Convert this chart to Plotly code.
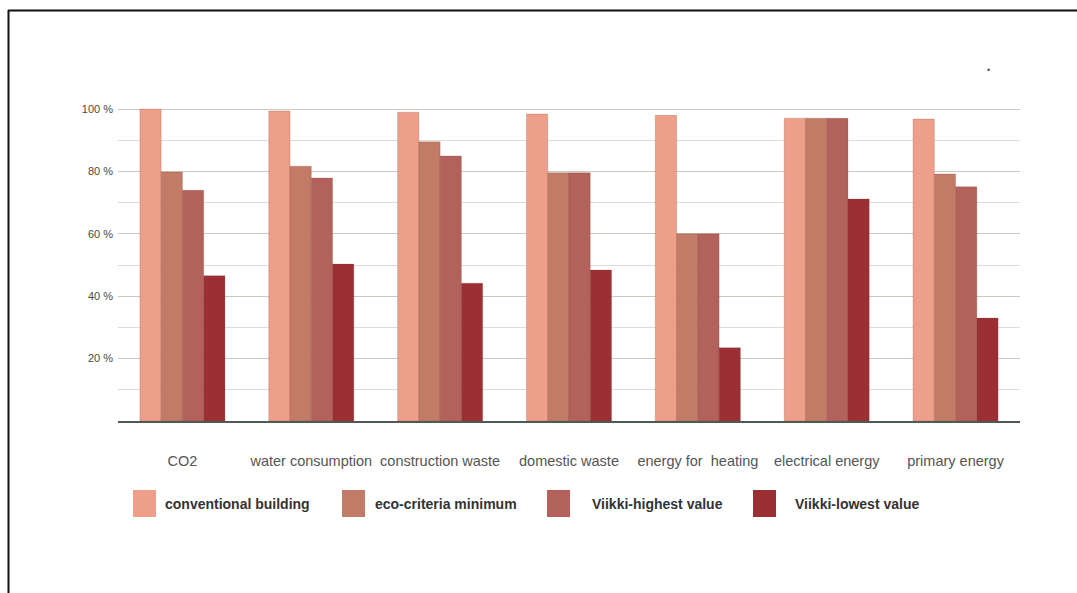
import plotly.graph_objects as go

# Indicator categories and the four building series (percent of conventional)
categories = ["CO2", "water consumption", "construction waste", "domestic waste",
              "energy for  heating", "electrical energy", "primary energy"]
series_names = ["conventional building", "eco-criteria minimum",
                "Viikki-highest value", "Viikki-lowest value"]
conventional = [100, 99.4, 99, 98.4, 98, 97.1, 96.8]
eco_minimum = [79.8, 81.7, 89.5, 79.6, 60, 97.1, 79.2]
viikki_high = [74, 77.9, 85, 79.6, 60, 97.1, 75.1]
viikki_low = [46.6, 50.3, 44.2, 48.4, 23.5, 71.2, 33]
series_values = [conventional, eco_minimum, viikki_high, viikki_low]
y_tickvals = [20, 40, 60, 80, 100]
y_ticktext = ["20 %", "40 %", "60 %", "80 %", "100 %"]

colors = ["#ED9F89", "#C27B66", "#B2625A", "#9B2F33"]

W, H = 1077, 593
L, R, T, B = 118, 57, 106, 172
PW, PH = W - L - R, H - T - B


def px_x(x):
    return (x - L) / PW


def px_y(y):
    return (H - B - y) / PH


fig = go.Figure()
for name, vals, col in zip(series_names, series_values, colors):
    fig.add_trace(go.Bar(
        x=categories, y=vals, name=name,
        marker=dict(color=col, line=dict(color="rgba(110,60,50,0.35)", width=0.6)),
        showlegend=False,
    ))

shapes = []
annotations = []

# Hand-placed legend row with large swatches
swatch_x = [133, 342, 547, 753]
text_x = [163, 373, 590, 793]
for name, col, sx, tx in zip(series_names, colors, swatch_x, text_x):
    shapes.append(dict(type="rect", xref="paper", yref="paper",
                       x0=px_x(sx), x1=px_x(sx + 23), y0=px_y(517), y1=px_y(490),
                       fillcolor=col, line=dict(width=0)))
    annotations.append(dict(xref="paper", yref="paper", x=px_x(tx), y=px_y(504),
                            xanchor="left", yanchor="middle", showarrow=False,
                            text="<b>%s</b>" % name,
                            font=dict(family="Liberation Sans, Arial", size=14, color="#333333")))

# Frame lines along the top and left edge
shapes.append(dict(type="line", xref="paper", yref="paper",
                   x0=px_x(8), x1=px_x(W + 2), y0=px_y(10.5), y1=px_y(10.5),
                   line=dict(color="#111111", width=2)))
shapes.append(dict(type="line", xref="paper", yref="paper",
                   x0=px_x(8.5), x1=px_x(8.5), y0=px_y(10), y1=px_y(H + 2),
                   line=dict(color="#111111", width=2)))

annotations.append(dict(xref="paper", yref="paper", x=px_x(992), y=px_y(63),
                        text="•", showarrow=False,
                        font=dict(size=9, color="#555555")))

fig.update_layout(
    width=W, height=H,
    margin=dict(l=L, r=R, t=T, b=B, pad=0),
    paper_bgcolor="white", plot_bgcolor="white",
    barmode="group", bargap=0.34, bargroupgap=0,
    shapes=shapes, annotations=annotations,
    font=dict(family="Liberation Sans, Arial", color="#555555"),
)
fig.update_xaxes(
    showline=True, linecolor="#4f5a58", linewidth=2,
    showgrid=False, ticks="", ticklabelstandoff=26,
    tickfont=dict(size=14.5, color="#555555"),
)
fig.update_yaxes(
    range=[0, 101], tickvals=y_tickvals, ticktext=y_ticktext,
    showgrid=True, gridcolor="rgba(200,190,180,0.7)", gridwidth=1,
    minor=dict(dtick=10, showgrid=True, gridcolor="rgba(200,190,180,0.55)", gridwidth=1),
    zeroline=False, showline=False, ticks="", ticklabelstandoff=4,
    tickfont=dict(size=11, color="#4a4a4a"),
)

fig.write_html("out.html")
